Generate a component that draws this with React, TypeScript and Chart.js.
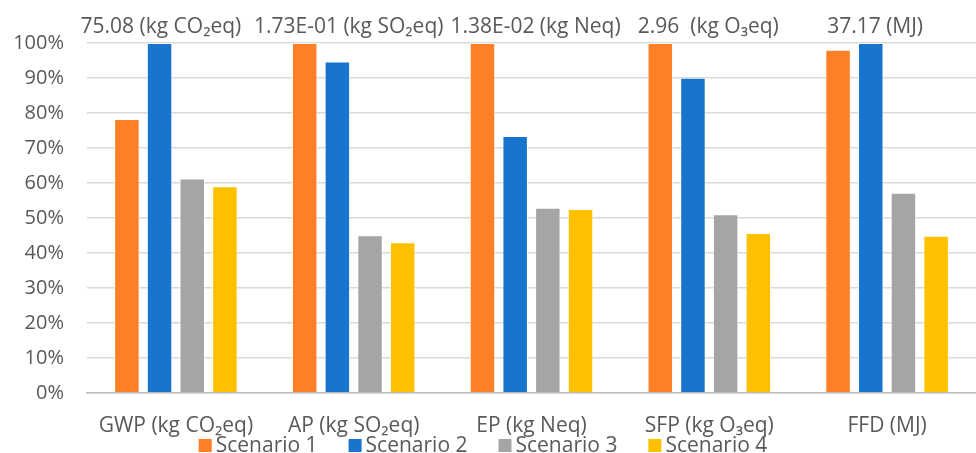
import React, { useEffect, useRef } from "react";
import { Chart, registerables } from "chart.js";

Chart.register(...registerables);

const categories = ["GWP (kg CO₂eq)", "AP (kg SO₂eq)", "EP (kg Neq)", "SFP (kg O₃eq)", "FFD (MJ)"];
const topLabels = ["75.08 (kg CO₂eq)", "1.73E-01 (kg SO₂eq)", "1.38E-02 (kg Neq)", "2.96  (kg O₃eq)", "37.17 (MJ)"];
const scenario1 = [78.3, 100, 100, 100, 98.1];
const scenario2 = [100, 94.7, 73.4, 90.1, 100];
const scenario3 = [61.3, 45.1, 52.9, 51.1, 57.2];
const scenario4 = [59.1, 43.1, 52.6, 45.7, 44.9];
const seriesNames = ["Scenario 1", "Scenario 2", "Scenario 3", "Scenario 4"];
const colors = ["#FF7F27", "#1874CD", "#A5A5A5", "#FFC000"];

// horizontal nudges of the header texts (style only)
const topLabelShift = [-15, -5, 4, -1, -12];

const FONT = "'Open Sans', 'Noto Sans', sans-serif";
const TEXT = "#595959";

const topLabelPlugin = {
  id: "topLabels",
  afterDraw(chart: any) {
    const { ctx, scales } = chart;
    const x = scales.x;
    ctx.save();
    ctx.font = `21px ${FONT}`;
    ctx.fillStyle = TEXT;
    ctx.textAlign = "center";
    ctx.textBaseline = "alphabetic";
    topLabels.forEach((t, i) => {
      ctx.fillText(t, x.getPixelForValue(i) + topLabelShift[i], 33);
    });
    ctx.restore();
  },
};

const legendPlugin = {
  id: "customLegend",
  afterDraw(chart: any) {
    const { ctx } = chart;
    ctx.save();
    ctx.font = `21px ${FONT}`;
    const box = 13;
    const gapBoxText = 4;
    const gapItems = 31;
    const widths = seriesNames.map((n) => box + gapBoxText + ctx.measureText(n).width);
    const total = widths.reduce((a, b) => a + b, 0) + gapItems * (widths.length - 1);
    let x = chart.width / 2 - total / 2 - 5;
    const baseline = chart.height - 1;
    seriesNames.forEach((n, i) => {
      ctx.fillStyle = colors[i];
      ctx.fillRect(x, baseline - 13, box, box);
      ctx.fillStyle = TEXT;
      ctx.textAlign = "left";
      ctx.textBaseline = "alphabetic";
      ctx.fillText(n, x + box + gapBoxText, baseline);
      x += widths[i] + gapItems;
    });
    ctx.restore();
  },
};

export default function App() {
  const ref = useRef<HTMLCanvasElement>(null);
  useEffect(() => {
    document.body.style.margin = "0";
    const all = [scenario1, scenario2, scenario3, scenario4];
    const chart = new Chart(ref.current!, {
      type: "bar",
      data: {
        labels: categories,
        datasets: all.map((d, i) => ({
          label: seriesNames[i],
          data: d,
          backgroundColor: colors[i],
          borderColor: "rgba(255,255,255,0.6)",
          borderWidth: 1,
          barPercentage: 0.78,
          categoryPercentage: 0.735,
        })),
      },
      options: {
        animation: false,
        responsive: true,
        maintainAspectRatio: false,
        layout: { padding: { top: 43, left: 0, right: 0, bottom: 0 } },
        plugins: {
          tooltip: { enabled: false },
          legend: { display: false },
        },
        scales: {
          x: {
            grid: { display: false, drawTicks: false },
            border: { color: "#BFBFBF", width: 1.5 },
            ticks: { color: TEXT, font: { family: FONT, size: 21 }, padding: 20, maxRotation: 0 },
            afterFit: (s: any) => {
              s.height = 60;
            },
          },
          y: {
            min: 0,
            max: 100,
            grid: { color: "#D9D9D9", lineWidth: 1.5, drawTicks: false },
            border: { display: false },
            ticks: {
              stepSize: 10,
              color: TEXT,
              font: { family: FONT, size: 20 },
              padding: 23,
              callback: (v: any) => v + "%",
            },
            afterFit: (s: any) => {
              s.width = 87;
            },
          },
        },
      },
      plugins: [topLabelPlugin, legendPlugin],
    });
    return () => chart.destroy();
  }, []);
  return (
    <div style={{ width: 976, height: 453, position: "relative" }}>
      <canvas ref={ref} />
    </div>
  );
}
